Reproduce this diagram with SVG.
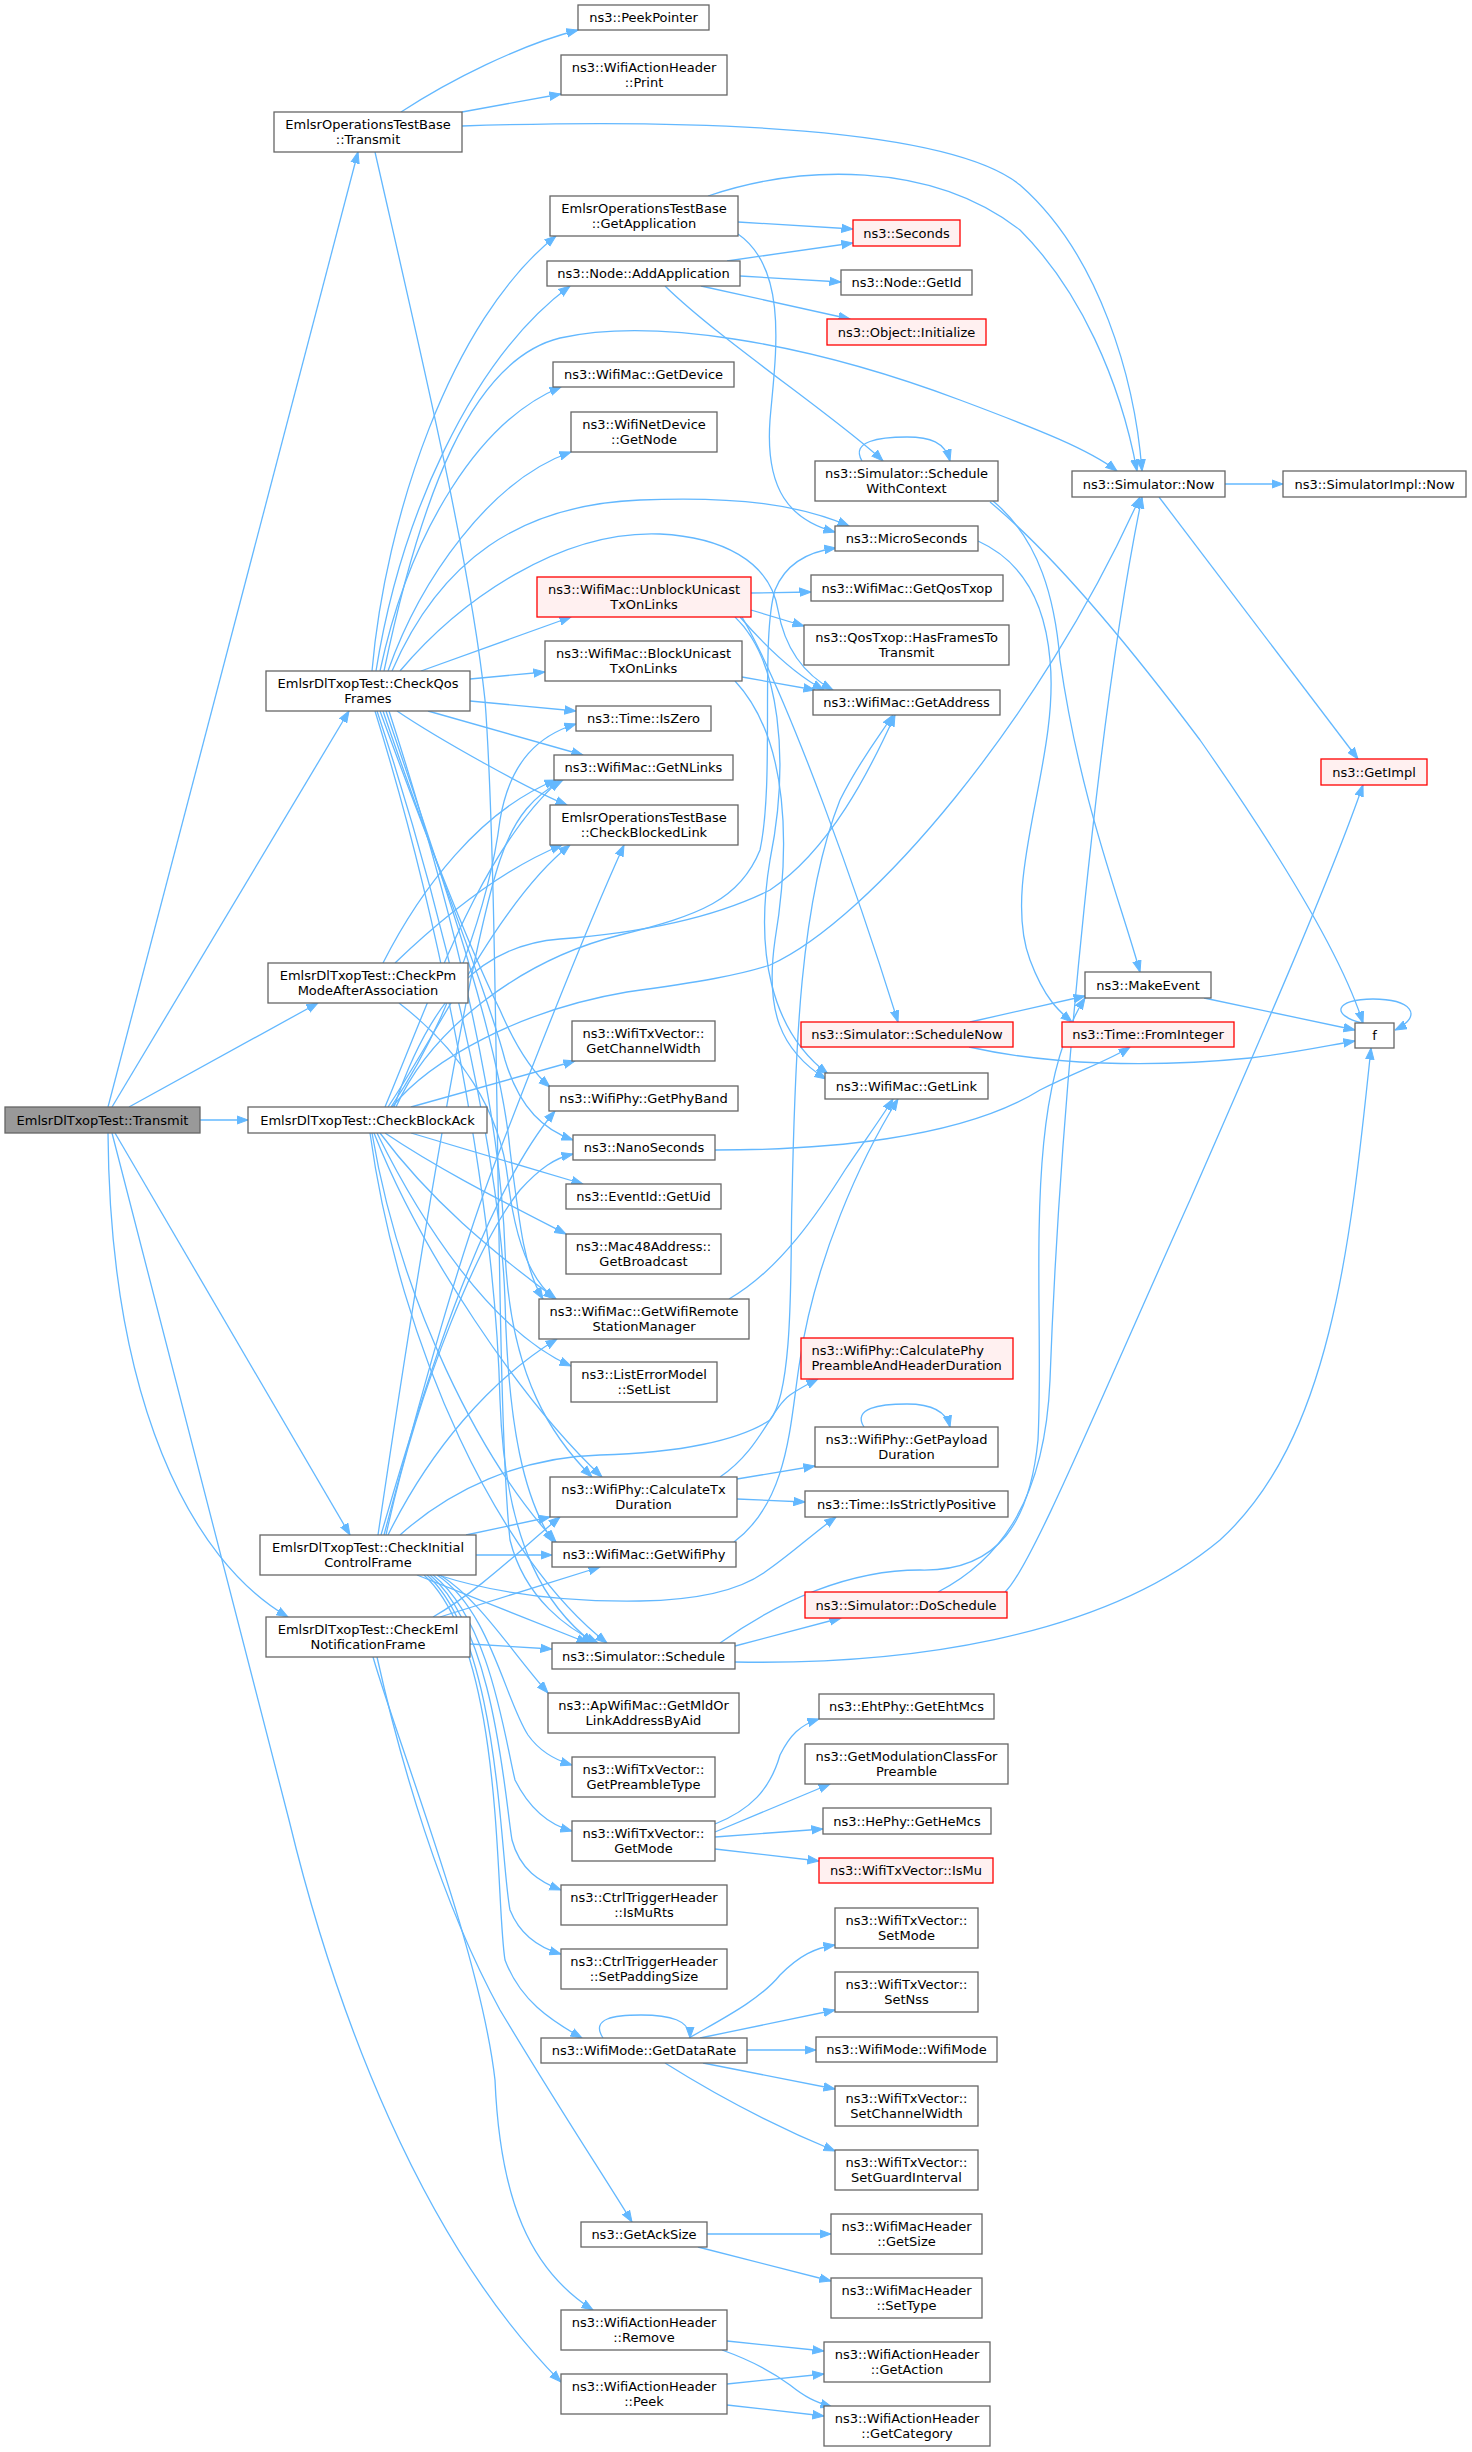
<svg xmlns="http://www.w3.org/2000/svg" width="1472" height="2452" viewBox="0 0 1472 2452">
<defs>
<style>
.n rect{fill:#ffffff;stroke:#666666;stroke-width:1.3}
.r rect{fill:#fff0f0;stroke:#ff0000;stroke-width:1.3}
.m rect{fill:#999999;stroke:#666666;stroke-width:1.3}
text{font-family:'DejaVu Sans','Liberation Sans',sans-serif;font-size:13px;fill:#000000;text-anchor:middle}
text.l{text-anchor:start}
#edges path{fill:none;stroke:#63b8ff;stroke-width:1.3;marker-end:url(#a)}
</style>
<marker id="a" markerUnits="userSpaceOnUse" markerWidth="12" markerHeight="10" viewBox="0 0 12 10" refX="11.5" refY="5" orient="auto">
<path d="M0,0.8 L11.5,5 L0,9.2 Z" fill="#63b8ff" stroke="#63b8ff" stroke-width="1"/>
</marker>
</defs>
<rect width="1472" height="2452" fill="#ffffff"/>
<g id="edges">
<path d="M108,1107 L358,152"/>
<path d="M112,1107 L349,711"/>
<path d="M129,1107 L318,1003"/>
<path d="M200,1120 L248,1120"/>
<path d="M115,1133 L350,1535"/>
<path d="M108,1133 C110,1400 190,1560 288,1617"/>
<path d="M112,1133 L289,1820 C335,2010 420,2240 561,2382"/>
<path d="M401,112 C450,80 520,45 578,30"/>
<path d="M462,112 L561,94"/>
<path d="M462,126 C700,118 950,128 1020,185 C1100,255 1135,380 1142,471"/>
<path d="M375,152 C420,350 470,560 485,700 C500,900 495,1400 510,1540 C525,1600 570,1630 598,1643"/>
<path d="M372,671 C385,520 450,320 556,236"/>
<path d="M376,671 C400,520 470,360 570,286"/>
<path d="M384,671 C420,500 470,360 560,338 C650,318 800,340 960,400 C1040,430 1090,450 1117,471"/>
<path d="M380,671 C410,530 480,420 561,387"/>
<path d="M388,671 C420,580 490,480 571,452"/>
<path d="M392,671 C440,560 520,505 640,500 C740,496 800,505 849,526"/>
<path d="M400,671 C460,600 560,530 660,534 C720,537 770,560 778,610 C785,650 805,675 833,690"/>
<path d="M421,671 L571,617"/>
<path d="M470,679 L545,672"/>
<path d="M470,701 L576,711"/>
<path d="M428,711 L583,755"/>
<path d="M397,711 C440,740 530,790 567,805"/>
<path d="M380,711 C420,820 470,950 500,1010 C515,1045 530,1070 550,1087"/>
<path d="M383,711 C430,850 490,1000 505,1060 C520,1110 545,1130 573,1140"/>
<path d="M386,711 C440,870 500,1040 510,1150 C520,1230 525,1270 543,1299"/>
<path d="M389,711 C450,900 500,1100 505,1250 C510,1380 555,1440 592,1477"/>
<path d="M377,711 C440,900 500,1150 505,1300 C508,1430 525,1500 553,1542"/>
<path d="M375,711 C440,920 495,1200 500,1400 C505,1550 550,1610 593,1643"/>
<path d="M383,963 C420,890 480,810 556,780"/>
<path d="M395,963 C440,920 500,870 562,845"/>
<path d="M399,1003 C460,1050 500,1110 508,1180 C515,1240 530,1280 555,1299"/>
<path d="M385,1107 C430,1000 480,850 560,780"/>
<path d="M388,1107 C440,1030 500,900 570,845"/>
<path d="M391,1107 C450,1020 490,900 500,820 C510,760 540,735 576,724"/>
<path d="M394,1107 C430,1000 480,945 560,939 C650,932 720,915 770,890 C830,850 870,770 895,715"/>
<path d="M392,1107 C430,1060 520,1010 627,992 C700,982 740,975 770,965 C870,920 1040,720 1140,497"/>
<path d="M396,1107 C430,1030 520,960 620,935 C700,915 740,900 760,850 C775,780 760,640 775,590 C785,565 805,552 836,548"/>
<path d="M411,1107 L575,1061"/>
<path d="M411,1133 L583,1184"/>
<path d="M385,1133 C440,1170 500,1200 566,1234"/>
<path d="M380,1133 C430,1200 490,1250 556,1299"/>
<path d="M377,1133 C420,1220 490,1330 571,1366"/>
<path d="M374,1133 C420,1250 520,1400 602,1477"/>
<path d="M372,1133 C400,1300 480,1460 556,1542"/>
<path d="M370,1133 C400,1350 500,1560 607,1643"/>
<path d="M378,1535 C420,1250 470,950 500,860 C515,815 535,795 563,780"/>
<path d="M384,1535 C420,1400 460,1250 500,1150 C550,1020 590,920 624,845"/>
<path d="M381,1535 C420,1400 480,1200 555,1111"/>
<path d="M386,1535 C420,1380 480,1240 520,1190 C540,1168 555,1158 573,1154"/>
<path d="M388,1535 C430,1450 490,1380 557,1339"/>
<path d="M466,1535 L550,1517"/>
<path d="M476,1555 L552,1555"/>
<path d="M417,1575 L588,1643"/>
<path d="M440,1575 C480,1600 510,1650 548,1693"/>
<path d="M437,1575 C490,1610 505,1700 528,1735 C540,1752 555,1760 572,1765"/>
<path d="M433,1575 C490,1620 505,1740 515,1780 C530,1810 550,1825 572,1831"/>
<path d="M430,1575 C495,1630 505,1800 512,1840 C520,1870 540,1882 561,1890"/>
<path d="M427,1575 C500,1640 500,1860 510,1910 C520,1935 540,1948 561,1954"/>
<path d="M424,1575 C505,1650 495,1900 505,1960 C520,2000 550,2020 582,2038"/>
<path d="M438,1575 C500,1595 570,1602 640,1601 C700,1600 740,1590 765,1572 C790,1555 815,1532 836,1517"/>
<path d="M400,1535 C450,1490 520,1457 600,1455 C680,1453 740,1440 770,1420 C795,1390 790,1250 792,1200 C795,1050 800,900 840,800 C860,760 880,735 893,715"/>
<path d="M433,1617 C480,1590 520,1550 560,1517"/>
<path d="M440,1617 L600,1567"/>
<path d="M470,1644 L552,1649"/>
<path d="M377,1657 C400,1760 440,1900 500,2010 C560,2110 600,2170 632,2222"/>
<path d="M373,1657 C400,1750 480,1950 495,2080 C500,2200 530,2270 593,2310"/>
<path d="M738,222 L853,229"/>
<path d="M708,196 C800,165 930,160 1020,230 C1080,290 1120,380 1137,471"/>
<path d="M738,234 C790,270 775,360 770,420 C765,490 790,520 835,532"/>
<path d="M727,261 L853,243"/>
<path d="M740,276 L841,282"/>
<path d="M701,286 L850,319"/>
<path d="M665,286 C720,340 840,420 883,461"/>
<path d="M862,461 C850,441 880,437 907,437 C930,437 945,442 950,461"/>
<path d="M993,501 C1040,540 1055,600 1060,660 C1080,800 1120,900 1140,972"/>
<path d="M990,502 C1060,560 1140,660 1200,740 C1270,840 1340,950 1363,1023"/>
<path d="M1225,484 L1283,484"/>
<path d="M1159,497 L1358,759"/>
<path d="M978,541 C1020,560 1045,600 1050,660 C1060,760 1000,880 1030,960 C1045,1000 1060,1012 1072,1022"/>
<path d="M751,593 L811,592"/>
<path d="M751,610 L804,626"/>
<path d="M740,617 C760,640 790,672 824,690"/>
<path d="M735,617 C780,660 790,760 770,860 C755,950 770,1030 828,1074"/>
<path d="M742,617 C790,700 860,900 898,1022"/>
<path d="M742,677 L815,690"/>
<path d="M735,681 C790,740 790,850 775,940 C765,1010 780,1050 826,1079"/>
<path d="M729,1299 C780,1270 820,1210 845,1170 C865,1140 880,1120 893,1099"/>
<path d="M734,1542 C790,1500 790,1420 800,1360 C815,1260 860,1160 898,1099"/>
<path d="M715,1150 C820,1150 960,1140 1040,1090 C1080,1070 1110,1060 1130,1047"/>
<path d="M970,1022 L1085,996"/>
<path d="M969,1047 C1050,1065 1150,1068 1250,1058 C1300,1052 1330,1045 1355,1041"/>
<path d="M1204,998 L1355,1030"/>
<path d="M1362,1023 C1330,1015 1335,999 1373,999 C1410,999 1425,1015 1395,1030"/>
<path d="M735,1646 L841,1618"/>
<path d="M720,1643 C780,1600 850,1570 920,1570 C1000,1572 1030,1520 1038,1440 C1045,1300 1020,1100 1085,998"/>
<path d="M735,1662 C900,1665 1100,1640 1220,1540 C1330,1440 1350,1250 1371,1048"/>
<path d="M938,1592 C1000,1560 1045,1500 1050,1380 C1060,1100 1100,700 1142,497"/>
<path d="M1005,1592 C1030,1570 1100,1400 1190,1200 C1260,1040 1330,880 1363,785"/>
<path d="M720,1477 C760,1450 770,1410 790,1395 C800,1388 810,1383 818,1379"/>
<path d="M737,1479 L815,1466"/>
<path d="M737,1499 L805,1502"/>
<path d="M864,1427 C852,1408 880,1404 907,1404 C930,1404 946,1410 950,1427"/>
<path d="M715,1824 C750,1810 770,1790 780,1755 C790,1735 800,1725 819,1719"/>
<path d="M715,1832 L830,1784"/>
<path d="M715,1837 L823,1829"/>
<path d="M715,1849 L819,1861"/>
<path d="M603,2038 C590,2018 615,2015 641,2015 C670,2015 690,2020 690,2038"/>
<path d="M689,2038 C720,2020 760,2000 780,1975 C800,1955 815,1948 835,1945"/>
<path d="M700,2038 L835,2010"/>
<path d="M747,2050 L816,2050"/>
<path d="M703,2063 L835,2089"/>
<path d="M665,2063 C700,2085 760,2120 835,2151"/>
<path d="M707,2234 L831,2234"/>
<path d="M698,2247 L831,2281"/>
<path d="M727,2341 L824,2351"/>
<path d="M722,2350 C750,2360 770,2370 790,2385 C805,2397 815,2402 832,2407"/>
<path d="M727,2384 L824,2374"/>
<path d="M727,2405 L824,2416"/>
</g>
<g id="n_main" class="m"><rect x="5" y="1107" width="195" height="26"/><text x="102.5" y="1124.5">EmlsrDlTxopTest::Transmit</text></g>
<g id="n_ot" class="n"><rect x="274" y="112" width="188" height="40"/><text x="368" y="128.5">EmlsrOperationsTestBase</text><text x="368" y="143.5">::Transmit</text></g>
<g id="n_cq" class="n"><rect x="266" y="671" width="204" height="40"/><text x="368" y="687.5">EmlsrDlTxopTest::CheckQos</text><text x="368" y="702.5">Frames</text></g>
<g id="n_cp" class="n"><rect x="268" y="963" width="200" height="40"/><text x="368" y="979.5">EmlsrDlTxopTest::CheckPm</text><text x="368" y="994.5">ModeAfterAssociation</text></g>
<g id="n_cba" class="n"><rect x="248" y="1107" width="239" height="26"/><text x="367.5" y="1124.5">EmlsrDlTxopTest::CheckBlockAck</text></g>
<g id="n_ci" class="n"><rect x="260" y="1535" width="216" height="40"/><text x="368" y="1551.5">EmlsrDlTxopTest::CheckInitial</text><text x="368" y="1566.5">ControlFrame</text></g>
<g id="n_ce" class="n"><rect x="266" y="1617" width="204" height="40"/><text x="368" y="1633.5">EmlsrDlTxopTest::CheckEml</text><text x="368" y="1648.5">NotificationFrame</text></g>
<g id="n_peekpointer" class="n"><rect x="578" y="5" width="131" height="25"/><text x="643.5" y="22">ns3::PeekPointer</text></g>
<g id="n_print" class="n"><rect x="561" y="55" width="166" height="40"/><text x="644" y="71.5">ns3::WifiActionHeader</text><text x="644" y="86.5">::Print</text></g>
<g id="n_getapp" class="n"><rect x="550" y="196" width="188" height="40"/><text x="644" y="212.5">EmlsrOperationsTestBase</text><text x="644" y="227.5">::GetApplication</text></g>
<g id="n_addapp" class="n"><rect x="547" y="261" width="193" height="25"/><text x="643.5" y="278">ns3::Node::AddApplication</text></g>
<g id="n_getdevice" class="n"><rect x="553" y="362" width="181" height="25"/><text x="643.5" y="379">ns3::WifiMac::GetDevice</text></g>
<g id="n_getnode" class="n"><rect x="571" y="412" width="146" height="40"/><text x="644" y="428.5">ns3::WifiNetDevice</text><text x="644" y="443.5">::GetNode</text></g>
<g id="n_unblock" class="r"><rect x="537" y="577" width="214" height="40"/><text x="644" y="593.5">ns3::WifiMac::UnblockUnicast</text><text x="644" y="608.5">TxOnLinks</text></g>
<g id="n_block" class="n"><rect x="545" y="641" width="197" height="40"/><text x="643.5" y="657.5">ns3::WifiMac::BlockUnicast</text><text x="643.5" y="672.5">TxOnLinks</text></g>
<g id="n_iszero" class="n"><rect x="576" y="706" width="135" height="25"/><text x="643.5" y="723">ns3::Time::IsZero</text></g>
<g id="n_getnlinks" class="n"><rect x="554" y="755" width="179" height="25"/><text x="643.5" y="772">ns3::WifiMac::GetNLinks</text></g>
<g id="n_checkblocked" class="n"><rect x="550" y="805" width="188" height="40"/><text x="644" y="821.5">EmlsrOperationsTestBase</text><text x="644" y="836.5">::CheckBlockedLink</text></g>
<g id="n_getchw" class="n"><rect x="572" y="1021" width="143" height="40"/><text x="643.5" y="1037.5">ns3::WifiTxVector::</text><text x="643.5" y="1052.5">GetChannelWidth</text></g>
<g id="n_getphyband" class="n"><rect x="549" y="1086" width="189" height="25"/><text x="643.5" y="1103">ns3::WifiPhy::GetPhyBand</text></g>
<g id="n_nanos" class="n"><rect x="573" y="1135" width="142" height="25"/><text x="644" y="1152">ns3::NanoSeconds</text></g>
<g id="n_getuid" class="n"><rect x="566" y="1184" width="155" height="25"/><text x="643.5" y="1201">ns3::EventId::GetUid</text></g>
<g id="n_getbroadcast" class="n"><rect x="566" y="1234" width="155" height="40"/><text x="643.5" y="1250.5">ns3::Mac48Address::</text><text x="643.5" y="1265.5">GetBroadcast</text></g>
<g id="n_getrsm" class="n"><rect x="539" y="1299" width="210" height="40"/><text x="644" y="1315.5">ns3::WifiMac::GetWifiRemote</text><text x="644" y="1330.5">StationManager</text></g>
<g id="n_setlist" class="n"><rect x="571" y="1362" width="146" height="40"/><text x="644" y="1378.5">ns3::ListErrorModel</text><text x="644" y="1393.5">::SetList</text></g>
<g id="n_calctx" class="n"><rect x="550" y="1477" width="187" height="40"/><text x="643.5" y="1493.5">ns3::WifiPhy::CalculateTx</text><text x="643.5" y="1508.5">Duration</text></g>
<g id="n_getwifiphy" class="n"><rect x="552" y="1542" width="184" height="25"/><text x="644" y="1559">ns3::WifiMac::GetWifiPhy</text></g>
<g id="n_schedule" class="n"><rect x="552" y="1643" width="183" height="26"/><text x="643.5" y="1660.5">ns3::Simulator::Schedule</text></g>
<g id="n_getmldor" class="n"><rect x="548" y="1693" width="191" height="40"/><text x="643.5" y="1709.5">ns3::ApWifiMac::GetMldOr</text><text x="643.5" y="1724.5">LinkAddressByAid</text></g>
<g id="n_getpreamble" class="n"><rect x="572" y="1757" width="143" height="40"/><text x="643.5" y="1773.5">ns3::WifiTxVector::</text><text x="643.5" y="1788.5">GetPreambleType</text></g>
<g id="n_getmode" class="n"><rect x="572" y="1821" width="143" height="40"/><text x="643.5" y="1837.5">ns3::WifiTxVector::</text><text x="643.5" y="1852.5">GetMode</text></g>
<g id="n_ismurts" class="n"><rect x="561" y="1885" width="166" height="40"/><text x="644" y="1901.5">ns3::CtrlTriggerHeader</text><text x="644" y="1916.5">::IsMuRts</text></g>
<g id="n_setpadding" class="n"><rect x="561" y="1949" width="166" height="40"/><text x="644" y="1965.5">ns3::CtrlTriggerHeader</text><text x="644" y="1980.5">::SetPaddingSize</text></g>
<g id="n_getdatarate" class="n"><rect x="541" y="2038" width="206" height="25"/><text x="644" y="2055">ns3::WifiMode::GetDataRate</text></g>
<g id="n_getacksize" class="n"><rect x="581" y="2222" width="126" height="25"/><text x="644" y="2239">ns3::GetAckSize</text></g>
<g id="n_remove" class="n"><rect x="561" y="2310" width="166" height="40"/><text x="644" y="2326.5">ns3::WifiActionHeader</text><text x="644" y="2341.5">::Remove</text></g>
<g id="n_peek" class="n"><rect x="561" y="2374" width="166" height="40"/><text x="644" y="2390.5">ns3::WifiActionHeader</text><text x="644" y="2405.5">::Peek</text></g>
<g id="n_seconds" class="r"><rect x="853" y="220" width="107" height="26"/><text x="906.5" y="237.5">ns3::Seconds</text></g>
<g id="n_getid" class="n"><rect x="841" y="270" width="131" height="25"/><text x="906.5" y="287">ns3::Node::GetId</text></g>
<g id="n_initialize" class="r"><rect x="827" y="319" width="159" height="26"/><text x="906.5" y="336.5">ns3::Object::Initialize</text></g>
<g id="n_swc" class="n"><rect x="815" y="461" width="183" height="40"/><text x="906.5" y="477.5">ns3::Simulator::Schedule</text><text x="906.5" y="492.5">WithContext</text></g>
<g id="n_micros" class="n"><rect x="835" y="526" width="143" height="25"/><text x="906.5" y="543">ns3::MicroSeconds</text></g>
<g id="n_getqostxop" class="n"><rect x="811" y="575" width="192" height="26"/><text x="907" y="592.5">ns3::WifiMac::GetQosTxop</text></g>
<g id="n_hasframes" class="n"><rect x="804" y="625" width="205" height="40"/><text x="906.5" y="641.5">ns3::QosTxop::HasFramesTo</text><text x="906.5" y="656.5">Transmit</text></g>
<g id="n_getaddress" class="n"><rect x="813" y="690" width="187" height="25"/><text x="906.5" y="707">ns3::WifiMac::GetAddress</text></g>
<g id="n_schedulenow" class="r"><rect x="801" y="1022" width="212" height="25"/><text x="907" y="1039">ns3::Simulator::ScheduleNow</text></g>
<g id="n_getlink" class="n"><rect x="825" y="1073" width="163" height="26"/><text x="906.5" y="1090.5">ns3::WifiMac::GetLink</text></g>
<g id="n_calcphy" class="r"><rect x="801" y="1338" width="212" height="41"/><text class="l" x="811.5" y="1354.5">ns3::WifiPhy::CalculatePhy</text><text class="l" x="811.5" y="1369.5">PreambleAndHeaderDuration</text></g>
<g id="n_getpayload" class="n"><rect x="815" y="1427" width="183" height="40"/><text x="906.5" y="1443.5">ns3::WifiPhy::GetPayload</text><text x="906.5" y="1458.5">Duration</text></g>
<g id="n_isstrictly" class="n"><rect x="805" y="1491" width="203" height="26"/><text x="906.5" y="1508.5">ns3::Time::IsStrictlyPositive</text></g>
<g id="n_doschedule" class="r"><rect x="805" y="1592" width="202" height="26"/><text x="906" y="1609.5">ns3::Simulator::DoSchedule</text></g>
<g id="n_getehtmcs" class="n"><rect x="819" y="1694" width="175" height="25"/><text x="906.5" y="1711">ns3::EhtPhy::GetEhtMcs</text></g>
<g id="n_getmodclass" class="n"><rect x="805" y="1744" width="203" height="40"/><text x="906.5" y="1760.5">ns3::GetModulationClassFor</text><text x="906.5" y="1775.5">Preamble</text></g>
<g id="n_gethemcs" class="n"><rect x="823" y="1808" width="168" height="26"/><text x="907" y="1825.5">ns3::HePhy::GetHeMcs</text></g>
<g id="n_ismu" class="r"><rect x="819" y="1858" width="174" height="25"/><text x="906" y="1875">ns3::WifiTxVector::IsMu</text></g>
<g id="n_setmode" class="n"><rect x="835" y="1908" width="143" height="40"/><text x="906.5" y="1924.5">ns3::WifiTxVector::</text><text x="906.5" y="1939.5">SetMode</text></g>
<g id="n_setnss" class="n"><rect x="835" y="1972" width="143" height="40"/><text x="906.5" y="1988.5">ns3::WifiTxVector::</text><text x="906.5" y="2003.5">SetNss</text></g>
<g id="n_wifimode" class="n"><rect x="816" y="2037" width="181" height="25"/><text x="906.5" y="2054">ns3::WifiMode::WifiMode</text></g>
<g id="n_setchw" class="n"><rect x="835" y="2086" width="143" height="40"/><text x="906.5" y="2102.5">ns3::WifiTxVector::</text><text x="906.5" y="2117.5">SetChannelWidth</text></g>
<g id="n_setgi" class="n"><rect x="835" y="2150" width="143" height="40"/><text x="906.5" y="2166.5">ns3::WifiTxVector::</text><text x="906.5" y="2181.5">SetGuardInterval</text></g>
<g id="n_getsize" class="n"><rect x="831" y="2214" width="151" height="40"/><text x="906.5" y="2230.5">ns3::WifiMacHeader</text><text x="906.5" y="2245.5">::GetSize</text></g>
<g id="n_settype" class="n"><rect x="831" y="2278" width="151" height="40"/><text x="906.5" y="2294.5">ns3::WifiMacHeader</text><text x="906.5" y="2309.5">::SetType</text></g>
<g id="n_getaction" class="n"><rect x="824" y="2342" width="166" height="40"/><text x="907" y="2358.5">ns3::WifiActionHeader</text><text x="907" y="2373.5">::GetAction</text></g>
<g id="n_getcategory" class="n"><rect x="824" y="2406" width="166" height="40"/><text x="907" y="2422.5">ns3::WifiActionHeader</text><text x="907" y="2437.5">::GetCategory</text></g>
<g id="n_simnow" class="n"><rect x="1072" y="471" width="153" height="26"/><text x="1148.5" y="488.5">ns3::Simulator::Now</text></g>
<g id="n_makeevent" class="n"><rect x="1085" y="972" width="126" height="26"/><text x="1148" y="989.5">ns3::MakeEvent</text></g>
<g id="n_frominteger" class="r"><rect x="1062" y="1022" width="172" height="25"/><text x="1148" y="1039">ns3::Time::FromInteger</text></g>
<g id="n_simimplnow" class="n"><rect x="1283" y="471" width="183" height="26"/><text x="1374.5" y="488.5">ns3::SimulatorImpl::Now</text></g>
<g id="n_getimpl" class="r"><rect x="1321" y="759" width="106" height="26"/><text x="1374" y="776.5">ns3::GetImpl</text></g>
<g id="n_f" class="n"><rect x="1355" y="1023" width="39" height="25"/><text x="1374.5" y="1040">f</text></g>
</svg>
